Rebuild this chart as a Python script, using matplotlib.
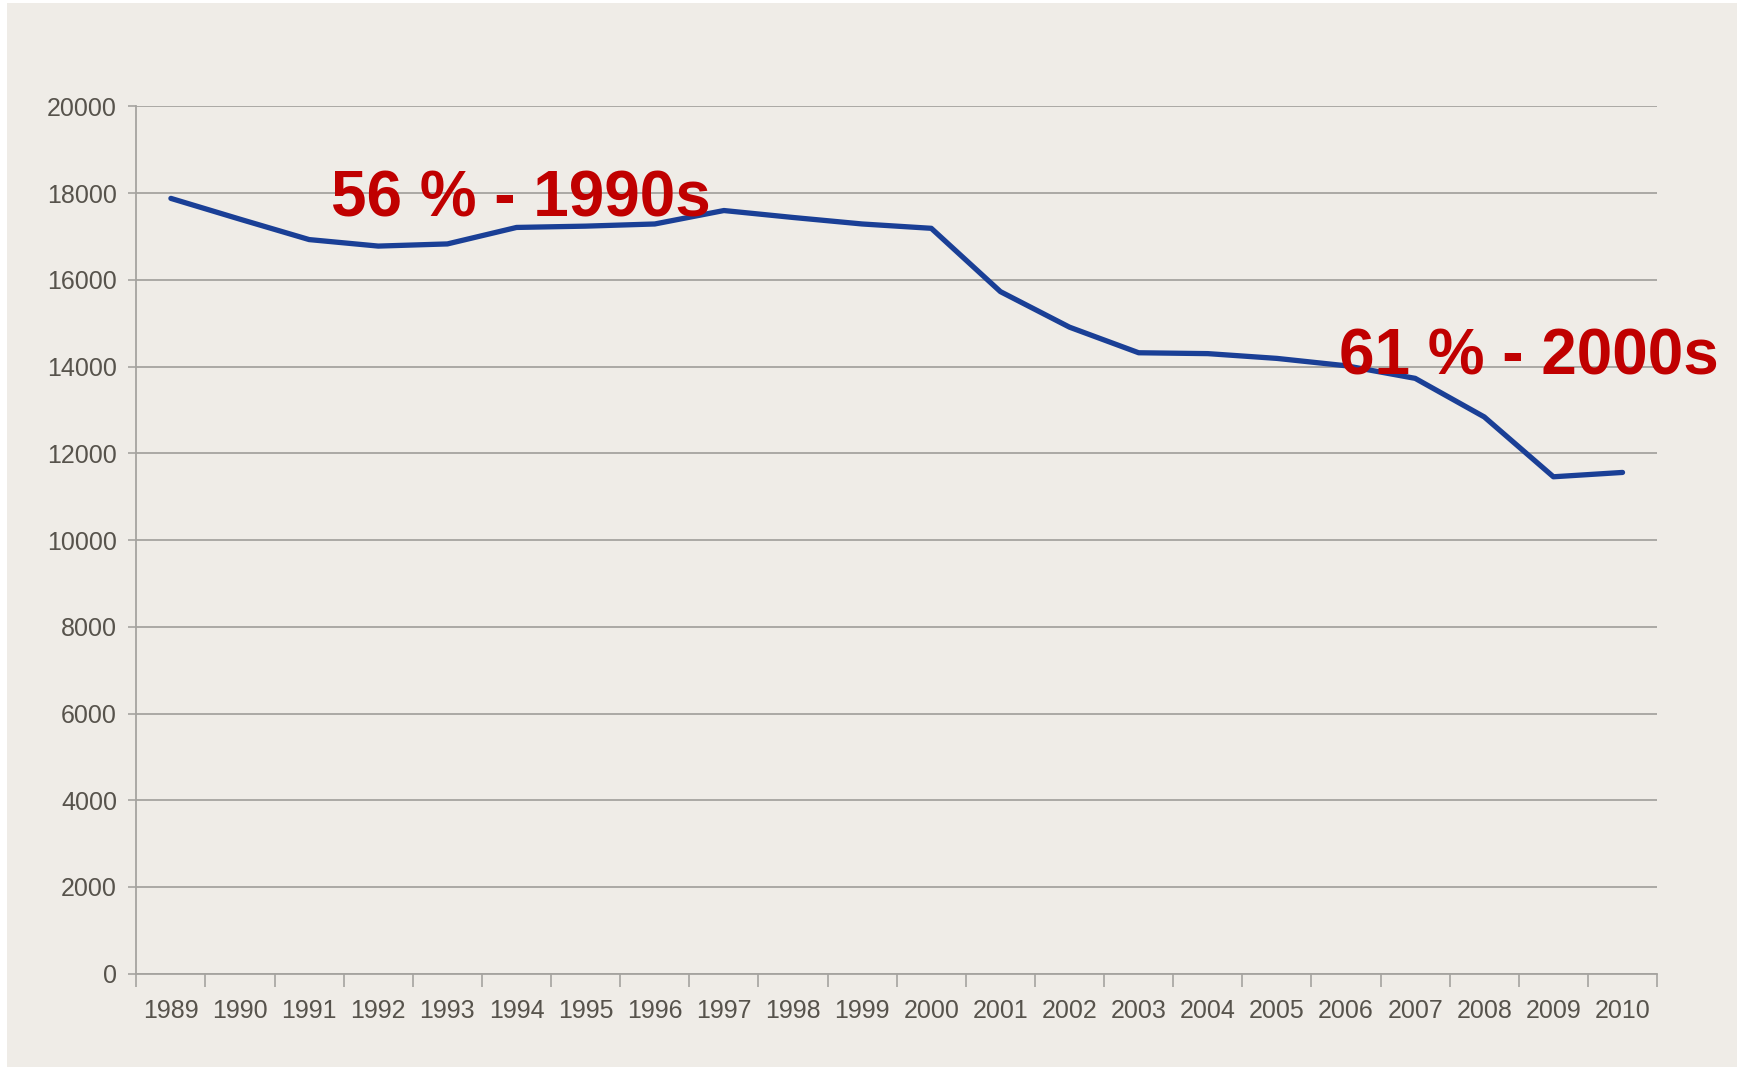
import matplotlib.pyplot as plt
from matplotlib.patches import Rectangle
import numpy as np

# data
years = [str(y) for y in range(1989, 2011)]
values = [17880, 17400, 16930, 16780, 16830, 17210, 17240, 17290, 17600, 17440,
          17290, 17190, 15730, 14910, 14320, 14300, 14190, 14020, 13730, 12840,
          11460, 11560]
y_ticks = [0, 2000, 4000, 6000, 8000, 10000, 12000, 14000, 16000, 18000, 20000]
notes = ["56 % - 1990s", "61 % - 2000s"]

bg = "#efece7"
grid_col = "#a5a39f"
txt_col = "#57534c"
fam = ["Liberation Sans Narrow", "Liberation Sans", "DejaVu Sans"]

fig = plt.figure(figsize=(17.39, 10.70), dpi=100)
fig.patch.set_facecolor("white")
fig.patches.append(Rectangle((0.004, 0.003), 0.995, 0.994, transform=fig.transFigure,
                             facecolor=bg, edgecolor="none", zorder=-5))

ax = fig.add_axes([0.0784, 0.09, 0.8745, 0.8105])
ax.set_facecolor(bg)

x = np.arange(len(years))
ax.plot(x, values, color="#1a3f96", lw=3.8, solid_joinstyle="round",
        solid_capstyle="round", zorder=3)

ax.set_xlim(-0.5, len(years) - 0.5)
ax.set_ylim(0, 20000)

# y axis
ax.set_yticks(y_ticks)
ax.set_yticklabels([str(v) for v in y_ticks], fontfamily=fam, fontsize=18,
                   color=txt_col)
ax.yaxis.grid(True, color=grid_col, lw=1.3)
ax.set_axisbelow(True)
ax.tick_params(axis="y", length=6, width=1.2, color=grid_col, pad=8)

# x axis: labels at the centres, tick marks on the category borders
ax.set_xticks(x)
ax.set_xticklabels(years, fontfamily=fam, fontsize=18, color=txt_col)
ax.tick_params(axis="x", which="major", length=0, pad=18)
ax.set_xticks(np.arange(-0.5, len(years)), minor=True)
ax.tick_params(axis="x", which="minor", length=9, width=1.2, color=grid_col)

for s in ["top", "right"]:
    ax.spines[s].set_visible(False)
for s in ["left", "bottom"]:
    ax.spines[s].set_color(grid_col)
    ax.spines[s].set_linewidth(1.3)

ax.text(2.31, 17470, notes[0], color="#c00000", fontsize=46, fontweight="bold",
        fontfamily=fam, ha="left", va="baseline", zorder=4)
ax.text(16.9, 13810, notes[1], color="#c00000", fontsize=46, fontweight="bold",
        fontfamily=fam, ha="left", va="baseline", zorder=4, clip_on=False)

fig.savefig("out.png", dpi=100, facecolor=fig.get_facecolor())
